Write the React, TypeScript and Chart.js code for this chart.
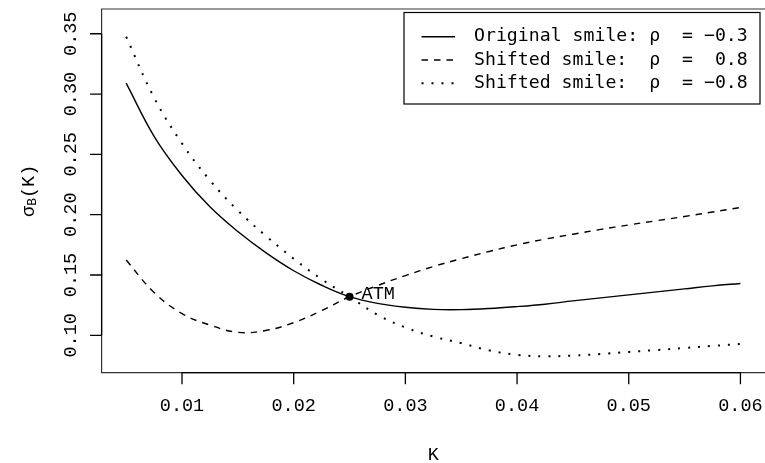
import { useEffect, useRef } from "react";
import { Chart, registerables } from "chart.js";

Chart.register(...registerables);

// Strikes K at which the implied Black volatilities were evaluated
const strikes = [
  0.005, 0.0075, 0.01, 0.0125, 0.015, 0.0175, 0.02, 0.0225, 0.025, 0.0275, 0.03, 0.0325,
  0.035, 0.0375, 0.04, 0.0425, 0.045, 0.0475, 0.05, 0.0525, 0.055, 0.0575, 0.06,
];

// Original smile, rho = -0.3
const originalSmile = [
  0.309, 0.265, 0.2325, 0.2065, 0.186, 0.1685, 0.1535, 0.1415, 0.132, 0.1265, 0.1232, 0.1215,
  0.1213, 0.1222, 0.1238, 0.1258, 0.1285, 0.131, 0.1335, 0.136, 0.1385, 0.141, 0.143,
];

// Shifted smile, rho = 0.8
const smileRhoHigh = [
  0.1624, 0.1355, 0.118, 0.1085, 0.1025, 0.104, 0.1105, 0.1205, 0.132, 0.1412, 0.1495, 0.157,
  0.1635, 0.1695, 0.175, 0.1797, 0.1838, 0.1878, 0.1915, 0.195, 0.1985, 0.2022, 0.206,
];

// Shifted smile, rho = -0.8
const smileRhoLow = [
  0.3475, 0.297, 0.259, 0.2285, 0.2035, 0.1825, 0.1635, 0.1465, 0.132, 0.117, 0.1065, 0.099,
  0.0935, 0.0875, 0.0838, 0.0826, 0.0832, 0.0845, 0.0862, 0.0878, 0.0895, 0.0912, 0.0928,
];

const atmStrike = [0.025];
const atmVol = [0.132];

const xTickValues = [0.01, 0.02, 0.03, 0.04, 0.05, 0.06];
const xTickLabels = ["0.01", "0.02", "0.03", "0.04", "0.05", "0.06"];
const yTickValues = [0.1, 0.15, 0.2, 0.25, 0.3, 0.35];
const yTickLabels = ["0.10", "0.15", "0.20", "0.25", "0.30", "0.35"];

const legendNames = ["Original smile:", "Shifted smile:", "Shifted smile:"];
const legendRhos = ["\u22120.3", " 0.8", "\u22120.8"];
const legendDashes: number[][] = [[], [6.5, 6], [2, 8]];
const legendWidths = [1.4, 1.4, 2];

const MONO = '"Liberation Mono", "DejaVu Sans Mono", monospace';
const FONT = `18.5px ${MONO}`;
const LEGEND_FONT = `18.2px "DejaVu Sans Mono", monospace`;

const rAxesPlugin = {
  id: "rAxes",
  afterDraw(chart: any) {
    const ctx: CanvasRenderingContext2D = chart.ctx;
    const { left, right, top, bottom } = chart.chartArea;
    const xs = chart.scales.x;
    const ys = chart.scales.y;
    ctx.save();

    // plot frame (the right edge lies on the canvas border)
    ctx.strokeStyle = "#333";
    ctx.lineWidth = 1.2;
    ctx.beginPath();
    ctx.moveTo(right + 2, top);
    ctx.lineTo(left, top);
    ctx.lineTo(left, bottom);
    ctx.lineTo(right + 2, bottom);
    ctx.stroke();

    // axis lines between first and last tick, plus ticks
    ctx.strokeStyle = "#000";
    ctx.lineWidth = 1.3;
    ctx.beginPath();
    const x0 = xs.getPixelForValue(xTickValues[0]);
    const x1 = xs.getPixelForValue(xTickValues[xTickValues.length - 1]);
    ctx.moveTo(x0, bottom);
    ctx.lineTo(x1, bottom);
    xTickValues.forEach((v) => {
      const px = xs.getPixelForValue(v);
      ctx.moveTo(px, bottom);
      ctx.lineTo(px, bottom + 11.5);
    });
    const y0 = ys.getPixelForValue(yTickValues[0]);
    const y1 = ys.getPixelForValue(yTickValues[yTickValues.length - 1]);
    ctx.moveTo(left, y0);
    ctx.lineTo(left, y1);
    yTickValues.forEach((v) => {
      const py = ys.getPixelForValue(v);
      ctx.moveTo(left, py);
      ctx.lineTo(left - 11.5, py);
    });
    ctx.stroke();

    // tick labels
    ctx.fillStyle = "#000";
    ctx.font = FONT;
    ctx.textAlign = "center";
    ctx.textBaseline = "middle";
    xTickValues.forEach((v, i) => {
      ctx.fillText(xTickLabels[i], xs.getPixelForValue(v), 406);
    });
    yTickValues.forEach((v, i) => {
      ctx.save();
      ctx.translate(71, ys.getPixelForValue(v));
      ctx.rotate(-Math.PI / 2);
      ctx.fillText(yTickLabels[i], 0, 0);
      ctx.restore();
    });

    // axis titles
    ctx.fillText("K", (left + right) / 2, 455);
    ctx.save();
    ctx.translate(29, (top + bottom) / 2);
    ctx.rotate(-Math.PI / 2);
    const subFont = `13px ${MONO}`;
    ctx.font = FONT;
    const wSigma = ctx.measureText("\u03c3").width;
    const wRest = ctx.measureText("(K)").width;
    ctx.font = subFont;
    const wSub = ctx.measureText("B").width;
    let cx = -(wSigma + wSub + wRest) / 2;
    ctx.textAlign = "left";
    ctx.font = FONT;
    ctx.fillText("\u03c3", cx, 0);
    cx += wSigma;
    ctx.font = subFont;
    ctx.fillText("B", cx, 4);
    cx += wSub;
    ctx.font = FONT;
    ctx.fillText("(K)", cx, 0);
    ctx.restore();

    // ATM annotation
    ctx.textAlign = "left";
    ctx.fillText(
      "ATM",
      xs.getPixelForValue(atmStrike[0]) + 12,
      ys.getPixelForValue(atmVol[0]) - 3
    );

    // legend
    const lx = 404;
    const ly = 12.5;
    const lw = 356;
    const lh = 91.5;
    ctx.fillStyle = "#fff";
    ctx.fillRect(lx, ly, lw, lh);
    ctx.strokeStyle = "#000";
    ctx.lineWidth = 1.2;
    ctx.strokeRect(lx, ly, lw, lh);
    const rows = [36.7, 60, 83.3];
    rows.forEach((ry, i) => {
      ctx.save();
      ctx.lineWidth = legendWidths[i];
      ctx.setLineDash(legendDashes[i]);
      ctx.beginPath();
      ctx.moveTo(421.5, ry);
      ctx.lineTo(455, ry);
      ctx.stroke();
      ctx.restore();
      ctx.fillStyle = "#000";
      ctx.font = LEGEND_FONT;
      ctx.textAlign = "left";
      const text = legendNames[i].padEnd(16, " ") + "\u03c1  = " + legendRhos[i];
      ctx.fillText(text, 474, ry);
    });

    ctx.restore();
  },
};

export default function App() {
  const canvasRef = useRef<HTMLCanvasElement | null>(null);

  useEffect(() => {
    if (!canvasRef.current) return;
    const pts = (ys: number[]) => strikes.map((k, i) => ({ x: k, y: ys[i] }));
    const lineStyle = {
      borderColor: "#000",
      borderWidth: 1.4,
      pointRadius: 0,
      fill: false,
      tension: 0.4,
    };
    const chart = new Chart(canvasRef.current, {
      type: "line",
      data: {
        datasets: [
          { label: "Original smile", data: pts(originalSmile), ...lineStyle },
          { label: "Shifted smile rho 0.8", data: pts(smileRhoHigh), ...lineStyle, borderDash: [6.5, 6] },
          {
            label: "Shifted smile rho -0.8",
            data: pts(smileRhoLow),
            ...lineStyle,
            borderWidth: 2,
            borderDash: [2, 8],
            borderCapStyle: "butt",
          },
          {
            label: "ATM",
            data: atmStrike.map((k, i) => ({ x: k, y: atmVol[i] })),
            showLine: false,
            pointRadius: 4,
            pointBackgroundColor: "#000",
            pointBorderColor: "#000",
            pointBorderWidth: 0,
          },
        ],
      },
      options: {
        animation: false,
        responsive: false,
        events: [],
        layout: { autoPadding: false, padding: { top: 9, right: 0, left: 0, bottom: 0 } },
        plugins: { legend: { display: false }, tooltip: { enabled: false } },
        scales: {
          x: {
            type: "linear",
            min: 0.0028,
            max: 0.0622,
            grid: { display: false },
            border: { display: false },
            ticks: { display: false },
            afterFit: (s: any) => {
              s.height = 90.3;
            },
          },
          y: {
            type: "linear",
            min: 0.069,
            max: 0.3705,
            grid: { display: false },
            border: { display: false },
            ticks: { display: false },
            afterFit: (s: any) => {
              s.width = 101.6;
            },
          },
        },
      },
      plugins: [rAxesPlugin],
    });
    return () => chart.destroy();
  }, []);

  return (
    <div style={{ position: "fixed", left: 0, top: 0, width: 765, height: 463, background: "#fff" }}>
      <canvas ref={canvasRef} width={765} height={463} />
    </div>
  );
}
